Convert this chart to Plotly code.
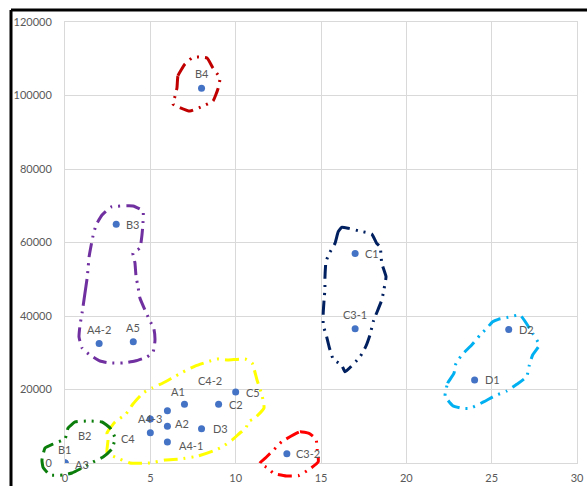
import plotly.graph_objects as go

# ---- data points ----
names = ["A1", "A2", "A3", "A4-1", "A4-2", "A4-3", "A5", "B1", "B2", "B3", "B4",
         "C1", "C2", "C3-1", "C3-2", "C4", "C4-2", "C5", "D1", "D2", "D3"]
x_vals = [7, 6, 0, 6, 2, 5, 4, 0, 0, 3, 8, 17, 9, 17, 13, 5, 6, 10, 24, 26, 8]
y_vals = [16000, 10000, 0, 5700, 32500, 12000, 33000, 0, 0, 65000, 102000,
          57000, 16000, 36500, 2500, 8200, 14200, 19300, 22600, 36300, 9300]

# label placement (style): anchor, x shift px, y shift px
label_style = {
    "A1": ("center", -6, 13), "A2": ("left", 6, 3), "A3": ("left", 8, -1),
    "A4-1": ("left", 10, -3), "A4-2": ("center", 0, 14), "A4-3": ("center", 0, 0),
    "A5": ("center", 0, 14), "B1": ("center", 0, 14), "B2": ("center", 20, 28),
    "B3": ("left", 8, 0), "B4": ("center", 0, 15), "C1": ("left", 8, 0),
    "C2": ("left", 8, 0), "C3-1": ("center", 0, 14), "C3-2": ("left", 7, 0),
    "C4": ("right", -13, -6), "C4-2": ("center", 43, 30), "C5": ("left", 8, 0),
    "D1": ("left", 8, 0), "D2": ("left", 8, 0), "D3": ("left", 9, 0),
}

x_ticks = [0, 5, 10, 15, 20, 25, 30]
y_ticks = [0, 20000, 40000, 60000, 80000, 100000, 120000]

# ---- hand-drawn cluster outlines (data units) ----
b4_x = [6.56, 6.62, 7.03, 7.44, 7.73, 8.32, 8.67, 9.08, 8.96, 8.67, 8.08, 7.32, 6.33, 6.45, 6.56]
b4_y = [102040, 105380, 108570, 110200, 110480, 110200, 107480, 104760, 101770, 98500,
        97140, 95780, 97690, 99860, 102040]

purple_x = [1.00, 1.17, 1.29, 1.35, 1.41, 1.64, 1.82, 2.17, 2.70, 3.98, 4.57, 4.57, 4.51,
            4.39, 3.98, 4.10, 4.16, 4.28, 4.39, 4.92, 5.21, 5.27, 5.16, 4.80, 4.10, 3.40,
            2.64, 2.05, 1.46, 1.00, 0.82, 0.88, 1.00]
purple_y = [40820, 46260, 50070, 52790, 56060, 61770, 64760, 67480, 69660, 69930, 68570,
            65310, 62040, 58510, 57140, 54420, 50880, 47890, 44900, 39190, 36460, 33200,
            30200, 28840, 27750, 27210, 27210, 27750, 29390, 31290, 34290, 37550, 40820]

navy_x = [15.82, 16.01, 16.21, 16.60, 17.24, 17.97, 18.26, 18.46, 18.56, 18.81, 18.69, 18.56,
          18.06, 17.87, 17.62, 17.29, 16.41, 16.21, 15.72, 15.49, 15.33, 15.13, 15.13, 15.18,
          15.23, 15.23, 15.29, 15.49, 15.82]
navy_y = [59780, 62940, 64140, 63870, 63130, 62310, 59780, 58860, 54340, 50690, 47270, 44350,
          38450, 34830, 31650, 28930, 24840, 26670, 28220, 31370, 34370, 37550, 40730, 44350,
          47270, 50260, 54780, 57060, 59780]

cyan_x = [22.27, 22.42, 22.79, 22.91, 23.30, 23.83, 24.32, 24.71, 25.06, 25.39, 25.97, 26.66,
          27.40, 27.79, 27.40, 27.21, 27.05, 26.47, 25.88, 25.20, 24.55, 23.73, 23.30, 22.72, 22.27]
cyan_y = [18230, 21690, 24410, 27130, 29660, 32110, 34830, 36650, 38450, 39100, 39650, 40270,
          35290, 32110, 29390, 26670, 23480, 21420, 19590, 18310, 16680, 14880, 14880, 15590, 18230]

yellow_x = [2.52, 2.46, 2.93, 3.57, 3.98, 4.57, 5.10, 5.74, 6.27, 6.91, 7.62, 8.50, 8.91, 9.55,
            10.55, 10.96, 11.25, 11.54, 11.66, 11.13, 10.72, 10.61, 10.25, 9.79, 9.20, 8.67,
            7.79, 6.74, 5.86, 4.98, 3.81, 2.93, 2.46, 2.52]
yellow_y = [6260, 8160, 11160, 13330, 16050, 19050, 20410, 21770, 23130, 24760, 26390, 27760,
            28300, 28030, 28300, 27210, 22590, 18500, 14970, 12240, 11160, 9520, 8160, 6260,
            4350, 3270, 1900, 1090, 820, 0, 0, 1630, 2720, 6260]

green_x = [-1.17, -1.35, -1.29, -0.88, -0.12, 0.41, 1.00, 1.64, 2.23, 2.75, 2.93, 2.64, 2.17,
           1.35, 0.59, 0.18, 0.00, -0.70, -1.17]
green_y = [4080, 820, -1090, -3270, -3270, -2720, -1360, 270, 1630, 3810, 6800, 9520, 11160,
           11430, 11160, 9520, 6530, 5170, 4080]

red_x = [12.70, 13.77, 14.30, 14.71, 14.78, 14.84, 14.26, 13.67, 12.99, 12.21, 11.91, 11.42,
         11.76, 12.26, 12.70]
red_y = [5800, 8520, 8080, 6450, 3540, 350, -1900, -3460, -3540, -2800, -1440, -80, 1440,
         3730, 5800]

outlines = [
    (b4_x, b4_y, "#C00000"),
    (purple_x, purple_y, "#7030A0"),
    (navy_x, navy_y, "#002060"),
    (cyan_x, cyan_y, "#00B0F0"),
    (yellow_x, yellow_y, "#FFFF00"),
    (green_x, green_y, "#0B7D0B"),
    (red_x, red_y, "#FF0000"),
]

# ---- figure geometry ----
W, H = 587, 486
ML, MR, MT, MB = 30, 10, 22, 6
pw, ph = W - ML - MR, H - MT - MB
ext_l, ext_b = 35, 17            # px of main plot offset inside the paper area
x_dom0 = ext_l / pw
y_dom0 = ext_b / ph
x2_min = 30 - 30 * pw / (pw - ext_l)
y2_min = 120000 - 120000 * ph / (ph - ext_b)

fig = go.Figure()

fig.add_trace(go.Scatter(
    x=x_vals, y=y_vals, mode="markers",
    marker=dict(color="#4472C4", size=7),
    xaxis="x", yaxis="y", showlegend=False, hoverinfo="skip"))

for ox, oy, col in outlines:
    fig.add_trace(go.Scatter(
        x=ox, y=oy, mode="lines", xaxis="x2", yaxis="y2",
        line=dict(color=col, width=3, dash="14px,6px,2px,6px,2px,6px",
                  shape="spline", smoothing=0.4),
        showlegend=False, hoverinfo="skip"))

font_lbl = dict(family="Lato, 'Open Sans', sans-serif", size=11, color="#595959")
annotations = []
for n, xv, yv in zip(names, x_vals, y_vals):
    anc, dx, dy = label_style[n]
    annotations.append(dict(
        x=xv, y=yv, xref="x", yref="y", text=n, showarrow=False,
        xanchor=anc, yanchor="middle", xshift=dx, yshift=dy, font=font_lbl))

axis_common = dict(showgrid=True, gridcolor="#D9D9D9", gridwidth=1,
                   zeroline=True, zerolinecolor="#D9D9D9", zerolinewidth=1,
                   showline=True, linecolor="#D9D9D9", linewidth=1, mirror=True,
                   ticks="", tickfont=font_lbl, automargin=False)

fig.update_layout(
    width=W, height=H, autosize=False,
    margin=dict(l=ML, r=MR, t=MT, b=MB, pad=0),
    paper_bgcolor="white", plot_bgcolor="rgba(0,0,0,0)",
    xaxis=dict(domain=[x_dom0, 1], range=[0, 30], tickvals=x_ticks,
               ticktext=[str(t) for t in x_ticks], anchor="y",
               ticklabelstandoff=5, **axis_common),
    yaxis=dict(domain=[y_dom0, 1], range=[0, 120000], tickvals=y_ticks,
               ticktext=[str(t) for t in y_ticks], anchor="x",
               ticklabelstandoff=10, **axis_common),
    xaxis2=dict(domain=[0, 1], range=[x2_min, 30], anchor="y2", visible=False,
                automargin=False),
    yaxis2=dict(domain=[0, 1], range=[y2_min, 120000], anchor="x2", visible=False,
                automargin=False),
    annotations=annotations,
    shapes=[
        dict(type="line", xref="paper", yref="paper",
             x0=(11 - ML) / pw, x1=1.2, y0=(H - MB - 10) / ph, y1=(H - MB - 10) / ph,
             line=dict(color="black", width=3)),
        dict(type="line", xref="paper", yref="paper",
             x0=(11 - ML) / pw, x1=(11 - ML) / pw, y0=-0.2, y1=(H - MB - 10) / ph,
             line=dict(color="black", width=3)),
    ],
)

fig.write_html("out.html",
               config={"displayModeBar": False, "staticPlot": True},
               post_script="document.body.style.margin='0';document.body.style.overflow='hidden';")
